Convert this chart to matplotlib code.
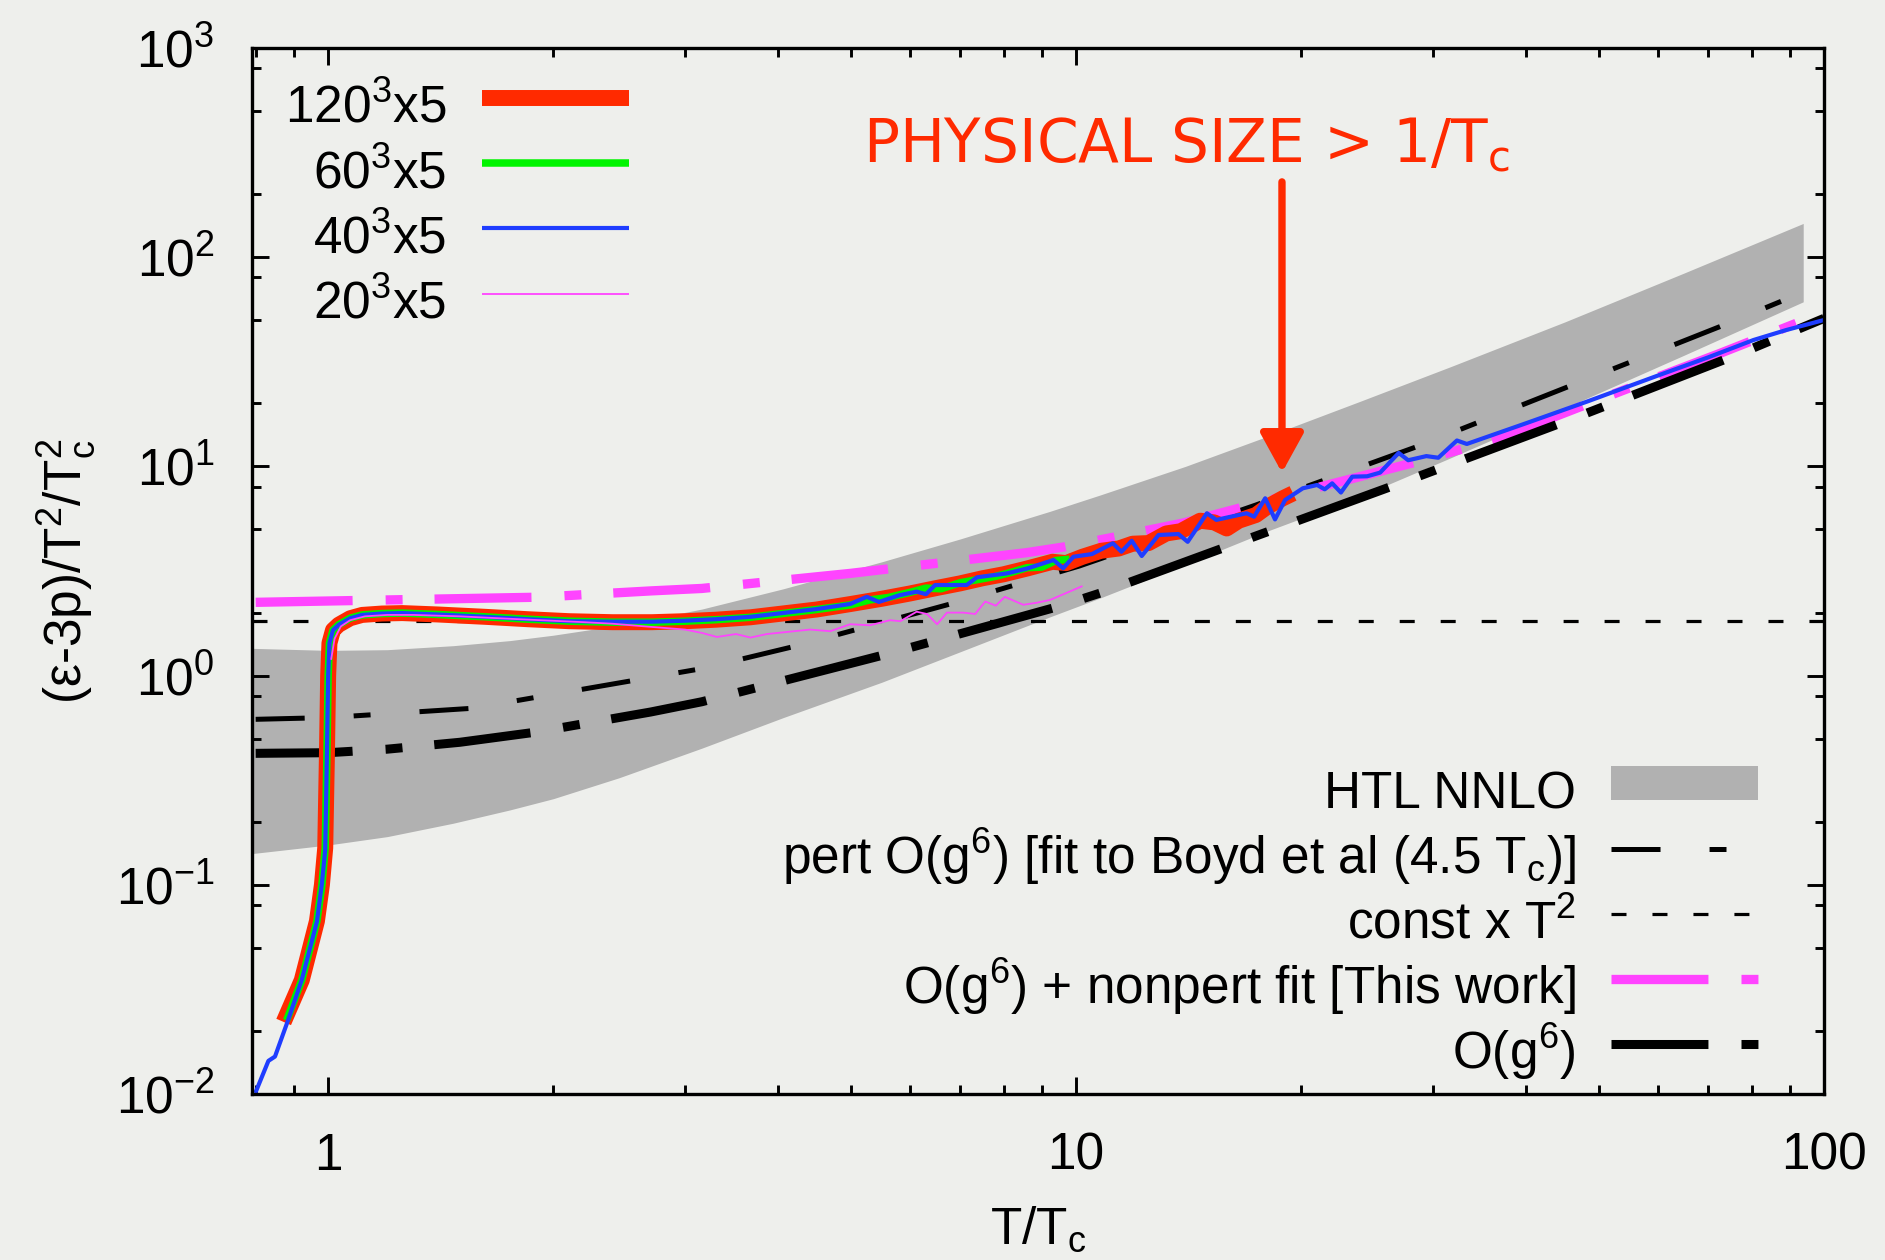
import matplotlib
matplotlib.use("Agg")
import matplotlib.pyplot as plt
from matplotlib.ticker import LogLocator, NullFormatter, LogFormatterMathtext
from matplotlib.patches import Rectangle
from matplotlib.legend_handler import HandlerPolyCollection

# ---------------- data ----------------
# HTL NNLO band (lower / upper edge)
htl_x = [0.791, 1.0, 1.2, 1.47, 1.75, 2.0, 2.45, 3.16, 4.06, 5.5, 7.0, 9.23,
         10.77, 14.0, 18.0, 24.0, 31.7, 45.0, 65.0, 93.8]
htl_lo = [0.141, 0.155, 0.170, 0.197, 0.228, 0.258, 0.325, 0.45, 0.63, 0.93,
          1.30, 1.91, 2.35, 3.4, 4.9, 7.2, 11.0, 19.0, 34.0, 61.2]
htl_hi = [1.35, 1.32, 1.33, 1.39, 1.47, 1.56, 1.74, 2.08, 2.6, 3.5,
          4.5, 6.1, 7.3, 10.0, 13.9, 20.5, 30.0, 49.0, 84.0, 145.0]

# perturbative O(g^6) fitted to Boyd et al at 4.5 Tc
pert_x = [0.80, 1.0, 1.56, 3.16, 4.19, 6.79, 10.1, 17.4, 20.3, 28.5, 72.6, 90.0]
pert_y = [0.618, 0.63, 0.698, 1.08, 1.376, 2.20, 3.34, 6.54, 8.0, 12.4, 46.6, 64.0]

# const x T^2
const_x = [0.791, 100.0]
const_y = [1.82, 1.82]

# O(g^6) + nonperturbative fit
nonpert_x = [0.80, 1.91, 2.70, 3.16, 4.99, 8.59, 9.67, 11.3, 13.9, 18.9, 28.5,
             33.6, 37.3, 49.2, 72.6, 93.0, 100.0]
nonpert_y = [2.24, 2.37, 2.54, 2.61, 3.08, 3.87, 4.13, 4.61, 5.36, 7.17, 10.5,
             12.4, 13.9, 20.4, 34.7, 49.2, 54.0]

# O(g^6)
og6_x = [0.80, 1.0, 1.2, 1.5, 1.89, 2.7, 3.16, 5.53, 9.52, 10.77, 16.1, 27.1,
         45.7, 76.4, 100.0]
og6_y = [0.425, 0.428, 0.445, 0.48, 0.536, 0.67, 0.75, 1.255, 2.15, 2.48, 4.2,
         8.3, 16.7, 34.1, 51.0]

# lattice 120^3 x 5
l120_x = [0.872, 0.922, 0.966, 0.981, 0.991, 0.996, 1.0, 1.004, 1.015, 1.033,
          1.07, 1.11, 1.18, 1.256, 1.4, 1.62, 1.85, 2.1, 2.4, 2.71,
          3.0, 3.3, 3.67, 4.0, 4.5, 5.0, 5.5, 6.0, 6.5, 7.0,
          7.5, 8.0, 8.6, 9.3, 9.7, 10.2, 10.8, 11.4, 11.9, 12.5,
          13.2, 13.8, 14.65, 15.3, 15.9, 16.5, 17.4, 18.0, 18.9, 19.5]
l120_y = [0.0221, 0.035, 0.067, 0.10, 0.15, 0.40, 1.0, 1.43, 1.65, 1.75,
          1.88, 1.95, 1.98, 1.99, 1.96, 1.91, 1.86, 1.82, 1.80, 1.80,
          1.82, 1.85, 1.90, 1.97, 2.07, 2.20, 2.33, 2.47, 2.62, 2.76,
          2.92, 3.05, 3.25, 3.50, 3.45, 3.70, 3.95, 4.05, 4.27, 4.30,
          4.78, 4.90, 5.50, 5.40, 5.05, 5.50, 5.86, 6.40, 7.04, 7.43]

# lattice 60^3 x 5
l60_x = [0.88, 0.922, 0.966, 0.981, 0.991, 0.996, 1.0, 1.004, 1.015, 1.033,
         1.07, 1.11, 1.18, 1.256, 1.4, 1.62, 1.85, 2.1, 2.4, 2.71,
         3.0, 3.3, 3.67, 4.0, 4.5, 5.0, 5.3, 5.6, 6.0, 6.3,
         6.6, 7.0, 7.4, 7.8, 8.2, 8.6, 9.0, 9.4, 9.8]
l60_y = [0.0225, 0.035, 0.067, 0.10, 0.15, 0.40, 1.0, 1.43, 1.65, 1.75,
         1.88, 1.95, 1.98, 1.99, 1.96, 1.91, 1.86, 1.82, 1.80, 1.80,
         1.82, 1.85, 1.90, 1.97, 2.07, 2.18, 2.30, 2.36, 2.50, 2.62,
         2.60, 2.78, 2.88, 2.98, 3.12, 3.28, 3.30, 3.55, 3.60]

# lattice 40^3 x 5
l40_x = [0.799, 0.832, 0.849, 0.881, 0.922, 0.966, 0.981, 0.991, 0.996, 1.0,
         1.004, 1.015, 1.033, 1.07, 1.11, 1.18, 1.256, 1.4, 1.62, 1.85,
         2.10, 2.4, 2.71, 3.0, 3.3, 3.67, 4.0, 4.5, 4.99, 5.25,
         5.45, 5.8, 6.12, 6.3, 6.48, 7.14, 7.37, 8.08, 8.6, 9.33,
         9.61, 9.92, 10.5, 11.2, 11.5, 11.87, 12.24, 12.89, 13.7, 14.1,
         14.96, 15.4, 16.9, 17.3, 17.9, 18.45, 19.03, 20.1, 21.0, 21.5,
         22.0, 22.6, 23.4, 24.5, 25.5, 27.0, 27.8, 29.4, 30.5, 32.3,
         33.3, 40.0, 48.2, 60.0, 70.0, 80.5, 89.1, 100.0]
l40_y = [0.0101, 0.0144, 0.0151, 0.0218, 0.0351, 0.0667, 0.1016, 0.147, 0.40, 1.0,
         1.43, 1.65, 1.75, 1.88, 1.95, 1.98, 1.99, 1.96, 1.91, 1.86,
         1.82, 1.81, 1.81, 1.83, 1.86, 1.91, 1.98, 2.08, 2.20, 2.38,
         2.25, 2.42, 2.52, 2.45, 2.71, 2.71, 2.95, 3.08, 3.25, 3.57,
         3.26, 3.70, 3.81, 4.29, 3.91, 4.41, 3.73, 4.70, 4.75, 4.36,
         5.97, 5.55, 5.97, 5.75, 7.04, 5.58, 6.91, 7.86, 8.15, 7.77,
         8.30, 7.5, 8.93, 8.97, 9.34, 11.6, 10.7, 11.2, 11.0, 13.3,
         12.8, 16.1, 20.4, 27.2, 33.2, 40.2, 44.9, 50.1]

# lattice 20^3 x 5
l20_x = [1.009, 1.02, 1.04, 1.07, 1.12, 1.2, 1.3, 1.5, 1.8, 2.2,
         2.4, 2.7, 3.0, 3.16, 3.31, 3.51, 3.67, 3.86, 4.41, 4.69,
         4.99, 5.30, 5.64, 5.82, 6.12, 6.32, 6.52, 6.72, 7.07, 7.33,
         7.56, 7.81, 8.03, 8.50, 8.86, 9.23, 10.2]
l20_y = [1.19, 1.5, 1.72, 1.84, 1.92, 1.95, 1.95, 1.92, 1.86, 1.80,
         1.77, 1.71, 1.66, 1.60, 1.53, 1.58, 1.52, 1.58, 1.66, 1.63,
         1.76, 1.74, 1.84, 1.82, 2.02, 1.97, 1.76, 2.0, 2.0, 1.97,
         2.26, 2.16, 2.38, 2.18, 2.23, 2.30, 2.68]

lattice_labels = ["$120^{3}$x5", "$60^{3}$x5", "$40^{3}$x5", "$20^{3}$x5"]
curve_labels = ["HTL NNLO",
                "pert O($g^{6}$) [fit to Boyd et al (4.5 $T_{c}$)]",
                "const x $T^{2}$",
                "O($g^{6}$) + nonpert fit [This work]",
                "O($g^{6}$)"]
x_ticks = [1, 10, 100]
x_ticklabels = ["1", "10", "100"]

# ---------------- style ----------------
BG = "#eeefec"
RED = "#ff2a00"
GREEN = "#00f400"
BLUE = "#1f3dff"
PINK = "#ff44ff"
GREY = "#b1b1b1"
FS = 37

plt.rcParams.update({
    "font.family": ["Liberation Sans", "DejaVu Sans"],
    "mathtext.default": "regular",
    "lines.scale_dashes": False,
    "lines.solid_capstyle": "butt",
    "lines.dash_capstyle": "butt",
    "font.size": FS,
})

fig = plt.figure(figsize=(18.85, 12.6), dpi=100, facecolor=BG)
ax = fig.add_axes([252 / 1885, 166 / 1260, 1572 / 1885, 1046 / 1260])
ax.set_facecolor(BG)
ax.set_xscale("log")
ax.set_yscale("log")
ax.set_xlim(0.791, 100)
ax.set_ylim(1e-2, 1e3)

# theory curves
band = ax.fill_between(htl_x, htl_lo, htl_hi, color=GREY, lw=0, zorder=1,
                       label=curve_labels[0])
dashdot_thick = (69.8, 23.8, 12.2, 23.0)
pert_line, = ax.plot(pert_x, pert_y, color="black", lw=3.6,
                     dashes=(35.3, 35.3, 12.2, 35.3), zorder=2,
                     label=curve_labels[1])
const_line, = ax.plot(const_x, const_y, color="black", lw=2.3,
                      dashes=(10.8, 18.7), zorder=2, label=curve_labels[2])
nonpert_line, = ax.plot(nonpert_x, nonpert_y, color=PINK, lw=6.7,
                        dashes=dashdot_thick, zorder=2, label=curve_labels[3])
og6_line, = ax.plot(og6_x, og6_y, color="black", lw=6.5,
                    dashes=dashdot_thick, zorder=2, label=curve_labels[4])

# lattice data
kw = dict(solid_joinstyle="round")
l120, = ax.plot(l120_x, l120_y, color=RED, lw=11.5, zorder=3,
                label=lattice_labels[0], **kw)
l60, = ax.plot(l60_x, l60_y, color=GREEN, lw=5.4, zorder=4,
               label=lattice_labels[1], **kw)
l40, = ax.plot(l40_x, l40_y, color=BLUE, lw=3.0, zorder=5,
               label=lattice_labels[2], **kw)
l20, = ax.plot(l20_x, l20_y, color=PINK, lw=1.3, zorder=6,
               label=lattice_labels[3], **kw)

# axes, ticks
for sp in ax.spines.values():
    sp.set_linewidth(2.4)
    sp.set_zorder(10)
ax.set_xticks(x_ticks, labels=x_ticklabels)
ax.xaxis.set_minor_locator(LogLocator(base=10, subs=range(2, 10), numticks=20))
ax.xaxis.set_minor_formatter(NullFormatter())
ax.yaxis.set_major_locator(LogLocator(base=10, numticks=20))
ax.yaxis.set_major_formatter(LogFormatterMathtext())
ax.yaxis.set_minor_locator(LogLocator(base=10, subs=(2.0, 5.0, 8.0), numticks=20))
ax.yaxis.set_minor_formatter(NullFormatter())
ax.tick_params(which="both", direction="in", top=True, right=True,
               width=2.1, labelsize=FS, zorder=10)
ax.tick_params(which="major", length=12.2)
ax.tick_params(which="minor", length=6.5)
ax.tick_params(axis="x", which="major", pad=27)
ax.tick_params(axis="y", which="major", pad=27)

ax.set_xlabel("T/$T_{c}$", fontsize=FS)
ax.xaxis.set_label_coords(0.5, -0.106)
ax.set_ylabel("(\u03b5-3p)/$T^{2}$/$T_{c}^{2}$", fontsize=FS)
ax.yaxis.set_label_coords(-0.098, 0.5)


# legend key for the band: a flat bar on the same centre line as line keys
class BandKey(HandlerPolyCollection):
    def create_artists(self, legend, orig_handle, xdescent, ydescent,
                       width, height, fontsize, trans):
        h = 0.66 * fontsize
        yc = (height - ydescent) / 2.0
        p = Rectangle((-xdescent, yc - h / 2.0), width, h)
        self.update_prop(p, orig_handle, legend)
        p.set_transform(trans)
        return [p]


common = dict(frameon=False, markerfirst=False, borderpad=0, borderaxespad=0,
              handlelength=2.86, handletextpad=0.69, handleheight=1.6,
              labelspacing=-0.015, prop={"size": FS},
              bbox_transform=ax.transAxes)

leg1 = ax.legend(handles=[l120, l60, l40, l20], loc="upper right",
                 bbox_to_anchor=(0.2398, 0.9763), **common)
leg1.set_zorder(12)
ax.add_artist(leg1)

leg2 = ax.legend(handles=[band, pert_line, const_line, nonpert_line, og6_line],
                 loc="lower right", bbox_to_anchor=(0.958, 0.0082),
                 handler_map={band: BandKey()}, **common)
leg2.set_zorder(12)

# annotation
ax.text(0.5945, 0.8901, "PHYSICAL SIZE > 1/$T_{c}$", transform=ax.transAxes,
        ha="center", va="baseline", color=RED, fontsize=43,
        family=["DejaVu Sans"], zorder=12)
ax.annotate("", xy=(0.6552, 0.594), xycoords="axes fraction",
            xytext=(0.6552, 0.872), textcoords="axes fraction",
            arrowprops=dict(arrowstyle="-|>,head_length=1.0,head_width=0.55",
                            mutation_scale=24, lw=5.3, color=RED,
                            shrinkA=0, shrinkB=0),
            zorder=12)

fig.savefig("out.png", dpi=100, facecolor=BG)
